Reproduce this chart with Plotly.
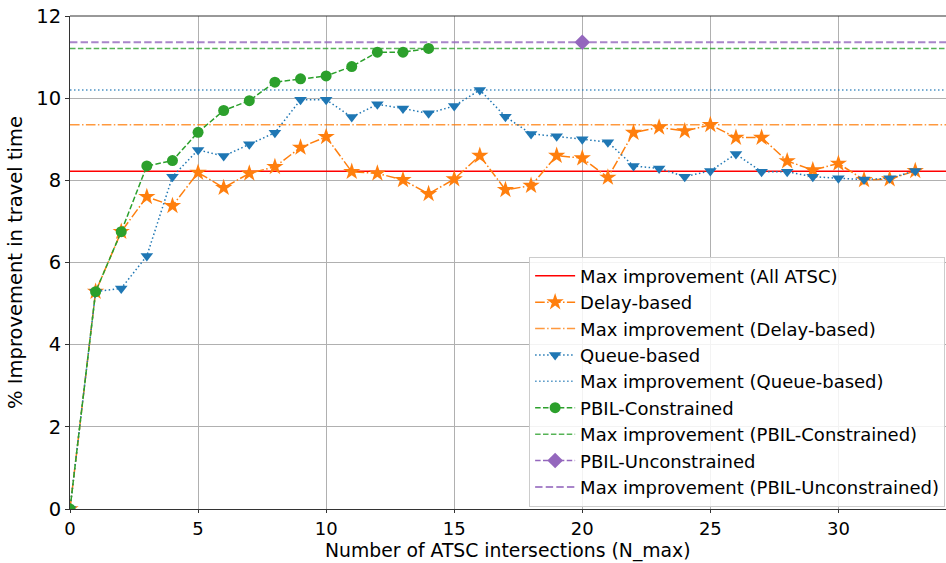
import plotly.graph_objects as go

# ---- data ----
n_atsc = list(range(34))
delay_based = [0, 5.29, 6.75, 7.60, 7.38, 8.19, 7.82, 8.17, 8.33, 8.80, 9.06, 8.21, 8.17,
               8.01, 7.67, 8.03, 8.60, 7.77, 7.87, 8.60, 8.54, 8.07, 9.16, 9.29, 9.20,
               9.35, 9.04, 9.04, 8.47, 8.25, 8.41, 8.01, 8.03, 8.23]
queue_based = [0, 5.29, 5.37, 6.16, 8.09, 8.74, 8.59, 8.88, 9.16, 9.96, 9.96, 9.54, 9.85,
               9.75, 9.63, 9.81, 10.20, 9.55, 9.13, 9.07, 9.00, 8.93, 8.35, 8.29, 8.09,
               8.23, 8.64, 8.21, 8.21, 8.09, 8.05, 8.02, 8.05, 8.23]
pbil_x = list(range(15))
pbil_constrained = [0, 5.29, 6.75, 8.35, 8.48, 9.17, 9.70, 9.94, 10.39, 10.47, 10.54,
                    10.77, 11.12, 11.12, 11.21]
unc_x = [20]
pbil_unconstrained = [11.36]
all_atsc_max = 8.22

x_ticks = [0, 5, 10, 15, 20, 25, 30]
y_ticks = [0, 2, 4, 6, 8, 10, 12]
X_RANGE = [0, 34.2]
Y_RANGE = [0, 12]
x_title = "Number of ATSC intersections (N_max)"
y_title = "% Improvement in travel time"

ORANGE = "#ff7f0e"
BLUE = "#1f77b4"
GREEN = "#2ca02c"
PURPLE = "#9467bd"

DASHDOT = "9.6px,2.4px,1.5px,2.4px"
DOT = "1.5px,2.5px"
DASH = "5.5px,2.4px"
LONGDASH = "7.4px,3.2px"

fig = go.Figure()


def hline(val, name, color, dash, width=1.5):
    fig.add_trace(go.Scatter(
        x=X_RANGE, y=[val, val], mode="lines", name=name, legendgroup=name,
        line=dict(color=color, width=width, dash=dash), hoverinfo="skip"))


hline(all_atsc_max, "Max improvement (All ATSC)", "#ff0000", "solid")

fig.add_trace(go.Scatter(
    x=n_atsc, y=delay_based, mode="lines+markers", name="Delay-based", legendgroup="d",
    line=dict(color=ORANGE, width=1.5, dash=DASHDOT),
    marker=dict(symbol="star", size=13, color=ORANGE, line=dict(width=0))))
hline(max(delay_based), "Max improvement (Delay-based)", "rgba(255,127,14,0.8)", DASHDOT)

fig.add_trace(go.Scatter(
    x=n_atsc, y=queue_based, mode="lines+markers", name="Queue-based", legendgroup="q",
    line=dict(color=BLUE, width=1.5, dash=DOT),
    marker=dict(symbol="triangle-down", size=11, color=BLUE, line=dict(width=0))))
hline(max(queue_based), "Max improvement (Queue-based)", "rgba(31,119,180,0.8)", DOT)

fig.add_trace(go.Scatter(
    x=pbil_x, y=pbil_constrained, mode="lines+markers", name="PBIL-Constrained",
    legendgroup="c",
    line=dict(color=GREEN, width=1.5, dash=DASH),
    marker=dict(symbol="circle", size=11, color=GREEN, line=dict(width=0))))
hline(max(pbil_constrained), "Max improvement (PBIL-Constrained)", "rgba(44,160,44,0.8)", DASH)

fig.add_trace(go.Scatter(
    x=unc_x, y=pbil_unconstrained, mode="lines+markers", name="PBIL-Unconstrained",
    legendgroup="u",
    line=dict(color=PURPLE, width=1.5, dash=DASH),
    marker=dict(symbol="diamond", size=12, color=PURPLE, line=dict(width=0))))
hline(max(pbil_unconstrained), "Max improvement (PBIL-Unconstrained)",
      "rgba(148,103,189,0.8)", LONGDASH, width=2)

FONT = "DejaVu Sans"
fig.update_layout(
    width=946, height=563,
    margin=dict(l=70, r=0, t=16, b=54),
    paper_bgcolor="white", plot_bgcolor="white",
    font=dict(family=FONT, size=18, color="#000000"),
    showlegend=True,
    legend=dict(
        x=0.999, xanchor="right", y=0.005, yanchor="bottom",
        bgcolor="rgba(255,255,255,0.85)", bordercolor="#cccccc", borderwidth=1,
        font=dict(family=FONT, size=18), tracegroupgap=0, itemwidth=40,
    ),
    xaxis=dict(
        range=X_RANGE, tickvals=x_ticks, ticktext=[str(v) for v in x_ticks],
        showgrid=True, gridcolor="#b0b0b0", gridwidth=1,
        showline=True, linecolor="#333333", linewidth=1,
        ticks="outside", ticklen=3, tickcolor="#333333",
        tickfont=dict(family=FONT, size=18), zeroline=False, automargin=False,
    ),
    yaxis=dict(
        range=Y_RANGE, tickvals=y_ticks, ticktext=[str(v) for v in y_ticks],
        showgrid=True, gridcolor="#b0b0b0", gridwidth=1,
        showline=True, linecolor="#333333", linewidth=1,
        ticks="outside", ticklen=4, tickcolor="#333333",
        tickfont=dict(family=FONT, size=19.5), zeroline=False, automargin=False,
        title=dict(text=y_title, font=dict(family=FONT, size=19.5), standoff=8),
    ),
    annotations=[dict(text=x_title, xref="paper", yref="paper", x=0.5, y=-0.0852,
                      xanchor="center", yanchor="middle", showarrow=False,
                      font=dict(family=FONT, size=18.8, color="#000000"))],
    shapes=[dict(type="line", xref="paper", yref="paper", x0=0, x1=1, y0=1, y1=1,
                 line=dict(color="#333333", width=1))],
)

fig.write_html("out.html")
